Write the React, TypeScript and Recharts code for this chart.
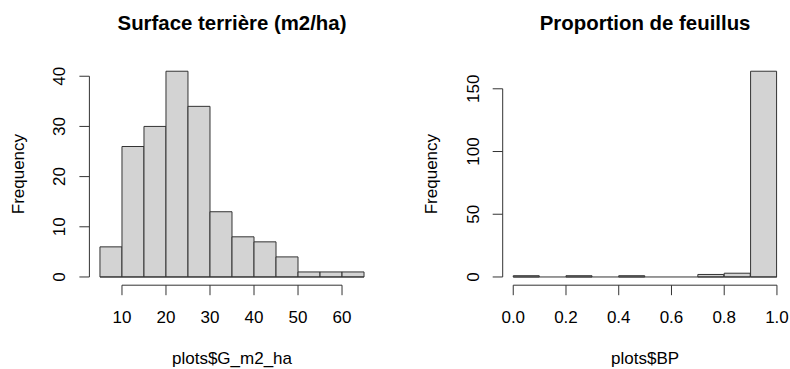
import React from "react";
import { BarChart, Bar, XAxis, YAxis, ReferenceLine } from "recharts";

// bin edges and counts
const basalBreaks = [5, 10, 15, 20, 25, 30, 35, 40, 45, 50, 55, 60, 65];
const basalCounts = [6, 26, 30, 41, 34, 13, 8, 7, 4, 1, 1, 1];
const basalTicksX = [10, 20, 30, 40, 50, 60];
const basalTicksY = [0, 10, 20, 30, 40];

const bpBreaks = [0, 0.1, 0.2, 0.3, 0.4, 0.5, 0.6, 0.7, 0.8, 0.9, 1.0];
const bpCounts = [1, 0, 1, 0, 1, 0, 0, 2, 3, 164];
const bpTicksX = [0, 0.2, 0.4, 0.6, 0.8, 1.0];
const bpTicksY = [0, 50, 100, 150];

const FONT = "'Liberation Sans', Arial, Helvetica, sans-serif";
const INK = "#333";
const CHART_H = 369;
const PANEL_W = 395;
const TOP = 63;
const BOTTOM = 83.8;

interface HistProps {
  breaks: number[];
  counts: number[];
  xTicks: number[];
  yTicks: number[];
  fmtX: (v: number) => string;
  yAxisWidth: number;
  marginRight: number;
  title: string;
  xLabel: string;
}

const Hist: React.FC<HistProps> = ({ breaks, counts, xTicks, yTicks, fmtX, yAxisWidth, marginRight, title, xLabel }) => {
  const data = counts.map((c, i) => ({ mid: (breaks[i] + breaks[i + 1]) / 2, count: c }));
  const x0 = breaks[0];
  const x1 = breaks[breaks.length - 1];
  const xPad = (x1 - x0) * 0.04;
  const yTop = Math.max(...counts);
  const yPad = yTop * 0.04;
  const xDomain: [number, number] = [x0 - xPad, x1 + xPad];
  const yDomain: [number, number] = [-yPad, yTop + yPad];

  const plotLeft = yAxisWidth;
  const plotRight = PANEL_W - marginRight;
  const centerX = (plotLeft + plotRight) / 2;

  const XTick = (props: any) => (
    <text x={props.x} y={props.y + 27.3} textAnchor="middle" fontSize={17} fill="#000" fontFamily={FONT}>
      {fmtX(props.payload.value)}
    </text>
  );

  const YTick = (props: any) => {
    const tx = props.x - 14;
    return (
      <text x={tx} y={props.y} transform={`rotate(-90 ${tx} ${props.y})`} textAnchor="middle" fontSize={17} fill="#000" fontFamily={FONT}>
        {props.payload.value}
      </text>
    );
  };

  return (
    <div style={{ position: "relative", width: PANEL_W, height: CHART_H }}>
      <BarChart
        width={PANEL_W}
        height={CHART_H}
        data={data}
        barCategoryGap={0}
        barGap={0}
        margin={{ top: TOP, right: marginRight, bottom: BOTTOM - 30, left: 0 }}
      >
        <XAxis
          type="number"
          dataKey="mid"
          domain={xDomain}
          ticks={xTicks}
          interval={0}
          allowDataOverflow
          axisLine={false}
          tickLine={{ stroke: INK }}
          tickSize={10}
          tickMargin={0}
          height={30}
          tick={XTick}
        />
        <YAxis
          type="number"
          domain={yDomain}
          ticks={yTicks}
          interval={0}
          allowDataOverflow
          axisLine={false}
          tickLine={{ stroke: INK }}
          tickSize={10}
          tickMargin={0}
          width={yAxisWidth}
          tick={YTick}
        />
        <Bar dataKey="count" fill="#d3d3d3" stroke={INK} strokeWidth={1} isAnimationActive={false} />
        <ReferenceLine segment={[{ x: x0, y: 0 }, { x: x1, y: 0 }]} stroke={INK} ifOverflow="visible" />
        <ReferenceLine
          segment={[{ x: xDomain[0], y: yTicks[0] }, { x: xDomain[0], y: yTicks[yTicks.length - 1] }]}
          stroke={INK}
          ifOverflow="visible"
        />
        <ReferenceLine
          segment={[{ x: xTicks[0], y: yDomain[0] }, { x: xTicks[xTicks.length - 1], y: yDomain[0] }]}
          stroke={INK}
          ifOverflow="visible"
        />
      </BarChart>
      <svg width={PANEL_W} height={CHART_H} style={{ position: "absolute", left: 0, top: 0, pointerEvents: "none" }}>
        <text x={centerX} y={30} textAnchor="middle" fontSize={20.4} fontWeight="bold" fill="#000" fontFamily={FONT}>
          {title}
        </text>
        <text x={centerX} y={364} textAnchor="middle" fontSize={17} fill="#000" fontFamily={FONT}>
          {xLabel}
        </text>
        <text
          x={plotLeft - 65.5}
          y={(TOP + CHART_H - BOTTOM) / 2}
          transform={`rotate(-90 ${plotLeft - 65.5} ${(TOP + CHART_H - BOTTOM) / 2})`}
          textAnchor="middle"
          fontSize={17}
          fill="#000"
          fontFamily={FONT}
        >
          Frequency
        </text>
      </svg>
    </div>
  );
};

export default function App() {
  return (
    <div style={{ position: "absolute", left: 0, top: 0, width: 790, height: CHART_H, background: "#fff", display: "flex" }}>
      <Hist
        breaks={basalBreaks}
        counts={basalCounts}
        xTicks={basalTicksX}
        yTicks={basalTicksY}
        fmtX={(v) => String(v)}
        yAxisWidth={89.4}
        marginRight={20.4}
        title="Surface terrière (m2/ha)"
        xLabel="plots$G_m2_ha"
      />
      <Hist
        breaks={bpBreaks}
        counts={bpCounts}
        xTicks={bpTicksX}
        yTicks={bpTicksY}
        fmtX={(v) => v.toFixed(1)}
        yAxisWidth={107.7}
        marginRight={2.5}
        title="Proportion de feuillus"
        xLabel="plots$BP"
      />
    </div>
  );
}
